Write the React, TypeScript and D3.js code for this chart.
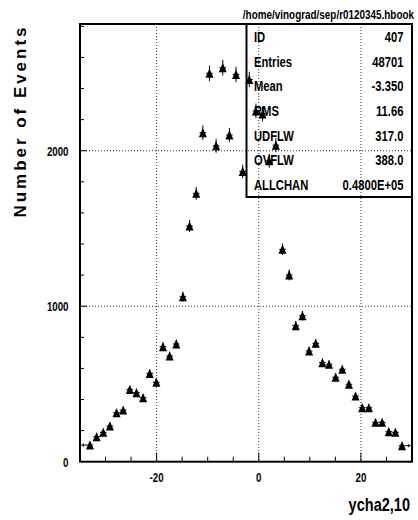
import React from 'react';
import * as d3 from 'd3';

// histogram 407 : 50 bins from -35 to 30
const nBins = 50;
const xMin = -35;
const xMax = 30;
const yMax = 2815;
const counts = [
  107, 107, 161, 189, 230, 315, 332, 465, 444, 412,
  568, 511, 740, 680, 757, 1061, 1516, 1726, 2116, 2498,
  2032, 2534, 2101, 2491, 1867, 2458, 2256, 2236, 1935, 2036,
  1366, 1201, 875, 939, 712, 761, 637, 626, 543, 594,
  498, 422, 347, 347, 253, 253, 193, 189, 103, 103,
];

const xTicks = [-20, 0, 20];
const yTicks = [0, 1000, 2000];

const statLabels = ['ID', 'Entries', 'Mean', 'RMS', 'UDFLW', 'OVFLW', 'ALLCHAN'];
const statValues = ['407', '48701', '-3.350', '11.66', '317.0', '388.0', '0.4800E+05'];

const title = '/home/vinograd/sep/r0120345.hbook';
const xTitle = 'ycha2,10';
const yTitle = 'Number of Events';

const FONT = '"Liberation Sans", Arial, Helvetica, sans-serif';

// condensed bold text (the original uses a narrow helvetica)
const T = ({ x, y, size, sx = 0.75, anchor = 'start', children }: any) => (
  <text
    transform={`translate(${x},${y}) scale(${sx},1)`}
    fontSize={size}
    fontWeight="bold"
    textAnchor={anchor}
    fill="#000"
  >
    {children}
  </text>
);

const App = () => {
  const left = 80, right = 412, top = 24, bottom = 461.7;

  const x = d3.scaleLinear().domain([xMin, xMax]).range([left, right]);
  const y = d3.scaleLinear().domain([0, yMax]).range([bottom, top]);

  const binW = (xMax - xMin) / nBins;
  const bins = counts.map((c, i) => ({ c, center: xMin + binW * (i + 0.5) }));

  const minorX = d3.range(xMin + 5, xMax, 5);
  const minorY = d3.range(200, yMax, 200);

  const boxLeft = 246.5, boxBottom = 197;
  const rowH = (boxBottom - top) / statLabels.length;

  const mw = 4; // marker half width

  return (
    <svg
      width={418}
      height={520}
      style={{ position: 'absolute', left: 0, top: 0, background: '#fff' }}
      fontFamily={FONT}
    >
      {/* grid */}
      {xTicks.map((t) => (
        <line key={'gx' + t} x1={x(t)} x2={x(t)} y1={top} y2={bottom}
          stroke="#333" strokeWidth={1} strokeDasharray="1,2" />
      ))}
      {yTicks.filter((t) => t > 0).map((t) => (
        <line key={'gy' + t} x1={left} x2={right} y1={y(t)} y2={y(t)}
          stroke="#333" strokeWidth={1} strokeDasharray="1,2" />
      ))}

      {/* ticks */}
      {minorX.map((t) => (
        <line key={'tx' + t} x1={x(t)} x2={x(t)} y1={bottom} y2={bottom - (xTicks.includes(t) ? 9 : 5)}
          stroke="#000" strokeWidth={1} />
      ))}
      {minorY.map((t) => (
        <line key={'ty' + t} x1={left} x2={left + (t % 1000 === 0 ? 7 : 4)} y1={y(t)} y2={y(t)}
          stroke="#000" strokeWidth={1} />
      ))}

      {/* points with error bars */}
      {bins.map((b, i) => {
        const cx = x(b.center);
        const cy = y(b.c);
        const e = Math.sqrt(b.c);
        const showMarker = cx - mw >= left && cx + mw <= right;
        return (
          <g key={'p' + i}>
            <line x1={cx} x2={cx} y1={y(b.c - e)} y2={y(b.c + e)} stroke="#000" strokeWidth={1} />
            <line x1={x(b.center - binW / 2)} x2={x(b.center + binW / 2)} y1={cy} y2={cy}
              stroke="#000" strokeWidth={1} />
            {showMarker && (
              <path d={`M${cx},${cy - 4.7}L${cx + mw},${cy + 4.5}L${cx - mw},${cy + 4.5}Z`} fill="#000" />
            )}
          </g>
        );
      })}

      {/* frame */}
      <rect x={left} y={top} width={right - left} height={bottom - top}
        fill="none" stroke="#000" strokeWidth={2} />

      {/* stats box */}
      <rect x={boxLeft} y={top} width={right - boxLeft} height={boxBottom - top}
        fill="none" stroke="#000" strokeWidth={2} />
      {statLabels.map((l, i) => {
        const base = top + rowH * (i + 0.5) + 5.5;
        return (
          <g key={'s' + l}>
            <T x={254} y={base} size={15}>{l}</T>
            <T x={403.5} y={base} size={15} anchor="end">{statValues[i]}</T>
          </g>
        );
      })}

      {/* tick labels */}
      {yTicks.map((t) => (
        <T key={'ly' + t} x={68.5} y={y(t) + 4.8} size={13.5} sx={0.72} anchor="end">{t}</T>
      ))}
      {xTicks.map((t) => (
        <T key={'lx' + t} x={x(t)} y={481.5} size={13.5} sx={0.72} anchor="middle">{t}</T>
      ))}

      {/* titles */}
      <T x={414} y={19} size={13.3} sx={0.745} anchor="end">{title}</T>
      <T x={410} y={511} size={17.5} sx={0.83} anchor="end">{xTitle}</T>
      <text
        transform="translate(26,122.5) rotate(-90)"
        fontSize={17}
        fontWeight="bold"
        textAnchor="middle"
        textLength={190}
        lengthAdjust="spacing"
      >
        {yTitle}
      </text>
    </svg>
  );
};

export default App;
